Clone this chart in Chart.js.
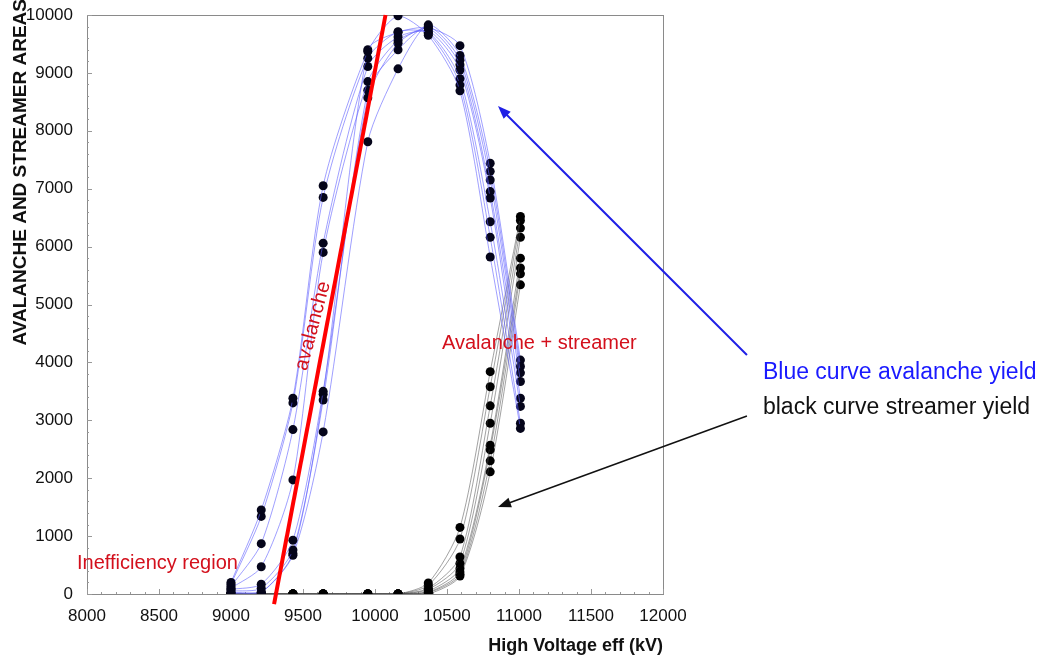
<!DOCTYPE html>
<html>
<head>
<meta charset="utf-8">
<script src="https://cdn.jsdelivr.net/npm/chart.js@4.4.0/dist/chart.umd.min.js"></script>
<style>
  html, body { margin: 0; padding: 0; background: #fff; }
  #wrap { width: 1059px; height: 657px; position: relative; }
</style>
</head>
<body>
<div id="wrap"><canvas id="hvChart"></canvas></div>
<script>
// --- data ---
const voltages = [9000, 9210, 9430, 9640, 9950, 10160, 10370, 10590, 10800, 11010];

// avalanche area per run (blue curves)
const avalancheRuns = [
    [200, 1450, 3380, 7050, 9370, 9985, 9650, 8690, 5820, 2860],
    [170, 1340, 3300, 6850, 9255, 9710, 9680, 8790, 6160, 2950],
    [130, 870, 2840, 6060, 9110, 9620, 9700, 8900, 6430, 3240],
    [100, 470, 1970, 5900, 8850, 9560, 9730, 9050, 6840, 3380],
    [80, 170, 930, 3500, 8570, 9510, 9770, 9140, 6950, 3670],
    [50, 100, 760, 3350, 8700, 9400, 9800, 9220, 7150, 3820],
    [30, 30, 670, 2800, 7810, 9070, 9830, 9300, 7300, 3930],
    [10, 30, 700, 3450, 9400, 9700, 9780, 9470, 7440, 4040]
];

// streamer area per run (black curves)
const streamerRuns = [
    [0, 0, 0, 0, 0, 0, 190, 1150, 3840, 6520],
    [0, 0, 0, 0, 0, 0, 150, 950, 3580, 6450],
    [0, 0, 0, 0, 0, 0, 100, 640, 3250, 6320],
    [0, 0, 0, 0, 0, 0, 80, 530, 2950, 6160],
    [0, 0, 0, 0, 0, 0, 50, 440, 2570, 5800],
    [0, 0, 0, 0, 0, 0, 30, 380, 2490, 5630],
    [0, 0, 0, 0, 0, 0, 20, 340, 2300, 5530],
    [0, 0, 0, 0, 0, 0, 0, 310, 2110, 5340]
];

// red guide line (avalanche slope)
const guideX = [9299, 10073];
const guideY = [-173, 10000];

const xTicks = [8000, 8500, 9000, 9500, 10000, 10500, 11000, 11500, 12000];
const yTicks = [0, 1000, 2000, 3000, 4000, 5000, 6000, 7000, 8000, 9000, 10000];

const RED = '#d3101c';
const FONT = '"Liberation Sans", Arial, sans-serif';

function toPoints(xs, ys) {
    return xs.map((x, i) => ({ x: x, y: ys[i] }));
}

const datasets = [];
datasets.push({
    data: toPoints(guideX, guideY),
    borderColor: '#ff0000',
    borderWidth: 4,
    pointRadius: 0,
    clip: false,
    order: 0
});
avalancheRuns.forEach(run => {
    datasets.push({
        data: toPoints(voltages, run),
        borderColor: 'rgba(95,95,255,0.6)',
        borderWidth: 1,
        tension: 0.25,
        pointRadius: 4.5,
        pointBackgroundColor: '#05051a',
        pointBorderColor: '#05051a',
        pointBorderWidth: 0,
        order: 2
    });
});
streamerRuns.forEach(run => {
    datasets.push({
        data: toPoints(voltages, run),
        borderColor: 'rgba(70,70,70,0.5)',
        borderWidth: 1,
        tension: 0.25,
        pointRadius: 4.5,
        pointBackgroundColor: '#000',
        pointBorderColor: '#000',
        pointBorderWidth: 0,
        order: 3
    });
});

// frame, inward ticks and the notes around the plot
const notesPlugin = {
    id: 'notes',
    beforeDatasetsDraw(chart) {
        const { ctx, chartArea: a, scales: { x, y } } = chart;
        ctx.save();
        ctx.strokeStyle = '#8a8a8a';
        ctx.lineWidth = 1;
        ctx.strokeRect(a.left + 0.5, a.top + 0.5, a.right - a.left, a.bottom - a.top);
        ctx.strokeStyle = '#999';
        for (let v = 8000; v <= 12000; v += 100) {
            const px = Math.round(x.getPixelForValue(v)) + 0.5;
            const len = v % 500 === 0 ? 5 : 2;
            ctx.beginPath(); ctx.moveTo(px, a.bottom); ctx.lineTo(px, a.bottom - len); ctx.stroke();
        }
        for (let v = 0; v <= 10000; v += 200) {
            const py = Math.round(y.getPixelForValue(v)) + 0.5;
            const len = v % 1000 === 0 ? 5 : 2;
            ctx.beginPath(); ctx.moveTo(a.left, py); ctx.lineTo(a.left + len, py); ctx.stroke();
        }
        ctx.restore();
    },
    afterDraw(chart) {
        const { ctx, scales: { x, y } } = chart;
        const px = v => x.getPixelForValue(v);
        const py = v => y.getPixelForValue(v);
        ctx.save();

        // y axis title runs off the top edge, as in the original
        ctx.save();
        ctx.translate(21, -1);
        ctx.rotate(-Math.PI / 2);
        ctx.textAlign = 'right';
        ctx.textBaseline = 'middle';
        ctx.fillStyle = '#111';
        ctx.font = 'bold 19px ' + FONT;
        ctx.fillText('AVALANCHE AND STREAMER AREAS', 0, 0);
        ctx.restore();

        function arrow(x0, y0, x1, y1, color, w) {
            const ax0 = px(x0), ay0 = py(y0), ax1 = px(x1), ay1 = py(y1);
            const ang = Math.atan2(ay1 - ay0, ax1 - ax0);
            ctx.strokeStyle = color; ctx.fillStyle = color; ctx.lineWidth = w;
            ctx.beginPath(); ctx.moveTo(ax0, ay0);
            ctx.lineTo(ax1 - 8 * Math.cos(ang), ay1 - 8 * Math.sin(ang)); ctx.stroke();
            ctx.beginPath();
            ctx.moveTo(ax1, ay1);
            ctx.lineTo(ax1 - 13 * Math.cos(ang) + 5 * Math.sin(ang), ay1 - 13 * Math.sin(ang) - 5 * Math.cos(ang));
            ctx.lineTo(ax1 - 13 * Math.cos(ang) - 5 * Math.sin(ang), ay1 - 13 * Math.sin(ang) + 5 * Math.cos(ang));
            ctx.closePath(); ctx.fill();
        }
        arrow(12583, 4128, 10854, 8428, '#1f1fe6', 2);
        arrow(12583, 3074, 10854, 1503, '#111', 1.5);

        ctx.textBaseline = 'middle';
        ctx.textAlign = 'left';
        ctx.font = '20px ' + FONT;
        ctx.fillStyle = RED;
        ctx.fillText('Avalanche + streamer', px(10465), py(4335));
        ctx.fillText('Inefficiency region', px(7931), py(535));

        ctx.save();
        ctx.translate(px(9569), py(4629));
        ctx.rotate(-75 * Math.PI / 180);
        ctx.textAlign = 'center';
        ctx.fillText('avalanche', 0, 0);
        ctx.restore();

        ctx.font = '23px ' + FONT;
        ctx.fillStyle = '#1a1aff';
        ctx.fillText('Blue curve avalanche yield', px(12694), py(3817));
        ctx.fillStyle = '#111';
        ctx.fillText('black curve streamer yield', px(12694), py(3212));
        ctx.restore();
    }
};

const ctx = document.getElementById('hvChart').getContext('2d');
const hvChart = new Chart(ctx, {
    type: 'line',
    data: { datasets: datasets },
    plugins: [notesPlugin],
    options: {
        responsive: true,
        maintainAspectRatio: false,
        animation: false,
        events: [],
        layout: { padding: { top: 15, right: 396, left: 0, bottom: 0 } },
        plugins: { legend: { display: false }, tooltip: { enabled: false } },
        scales: {
            x: {
                type: 'linear',
                min: 8000,
                max: 12000,
                afterBuildTicks: s => { s.ticks = xTicks.map(v => ({ value: v })); },
                afterFit: s => { s.height = 63; s.paddingLeft = 0; s.paddingRight = 0; },
                grid: { display: false, drawTicks: false },
                border: { display: false },
                ticks: {
                    padding: 12,
                    color: '#111',
                    font: { family: FONT, size: 17 },
                    callback: v => String(v)
                },
                title: {
                    display: true,
                    text: 'High Voltage eff (kV)',
                    align: 'end',
                    color: '#111',
                    padding: { top: 2, bottom: 0 },
                    font: { family: FONT, size: 18, weight: 'bold' }
                }
            },
            y: {
                type: 'linear',
                min: 0,
                max: 10000,
                afterBuildTicks: s => { s.ticks = yTicks.map(v => ({ value: v })); },
                afterFit: s => { s.width = 87; s.paddingTop = 0; s.paddingBottom = 0; },
                grid: { display: false, drawTicks: false },
                border: { display: false },
                ticks: {
                    padding: 14,
                    color: '#111',
                    font: { family: FONT, size: 17 },
                    callback: v => String(v)
                }
            }
        }
    }
});
</script>
</body>
</html>
